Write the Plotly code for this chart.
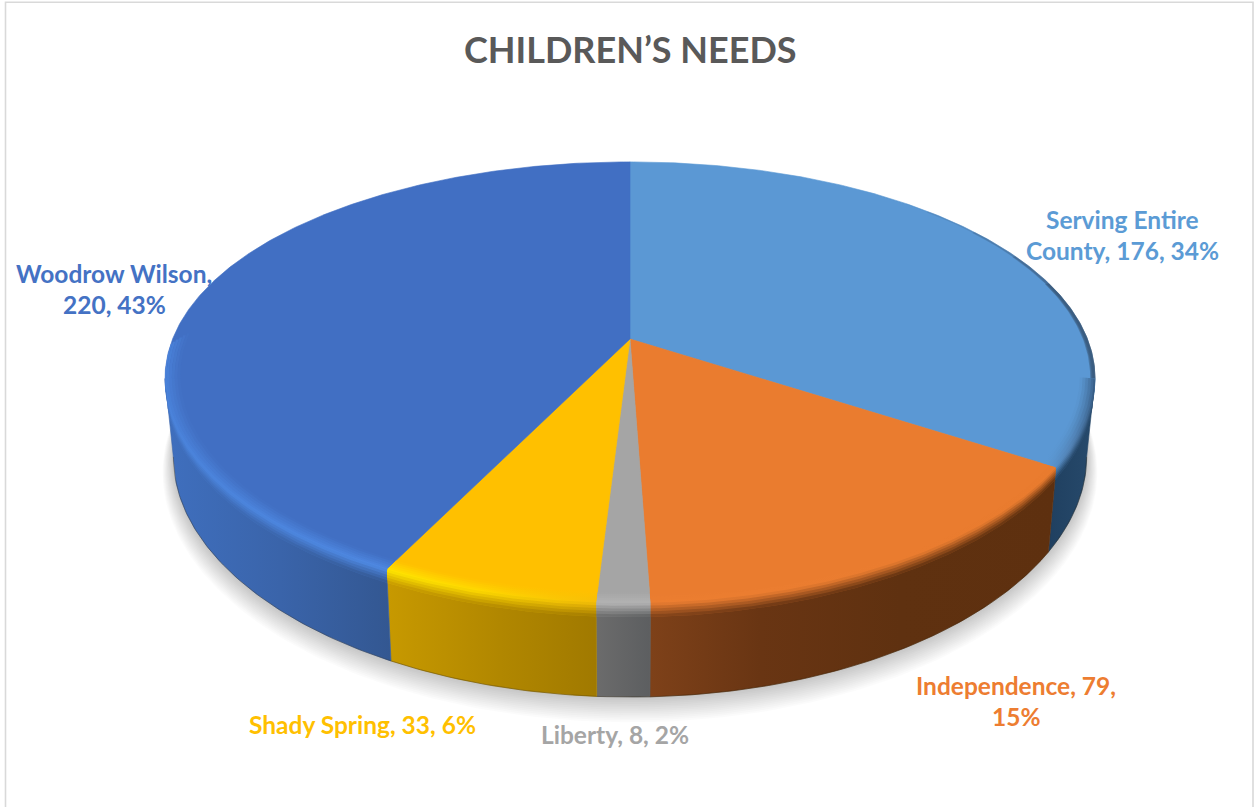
import numpy as np
import plotly.graph_objects as go

# Chart content
TITLE = "CHILDREN’S NEEDS"
CATEGORIES = ["Serving Entire County", "Independence", "Liberty", "Shady Spring", "Woodrow Wilson"]
VALUES = [176, 79, 8, 33, 220]
LABEL_BREAKS = ["Serving Entire", "Independence, 79,", None, None, "Woodrow Wilson,"]

# Slice colours
FACE_COLORS = ["#5B98D4", "#EA7C2F", "#A5A5A5", "#FFC000", "#416FC3"]
HIGHLIGHTS = [
    [(1045, "#5B98D4"), (1070, "#507FB0"), (1095, "#34587E")],
    [(650, "#EC7E31"), (1055, "#E97B2E")],
    [(595, "#B4B4B4"), (652, "#B4B4B4")],
    [(385, "#FFE600"), (480, "#FFDA00"), (600, "#F5BE08")],
    [(165, "#4B84DC"), (390, "#4F8AE4")],
]
WALL_SHADES = [
    [(1045, "#1F3F5F"), (1095, "#274A6C")],
    [(650, "#7E4119"), (760, "#693513"), (900, "#5F3110"), (1058, "#5E300F")],
    [(595, "#6C6C6C"), (652, "#5C5E60")],
    [(388, "#C79900"), (500, "#B18700"), (600, "#A07900")],
    [(165, "#3F6FBE"), (280, "#3A64AA"), (392, "#335791")],
]
LABEL_COLORS = ["#5B9BD5", "#ED7D31", "#A5A5A5", "#FFC000", "#4472C4"]
TITLE_COLOR = "#595959"
FRAME_COLOR = "#D9D9D9"

# Label anchors: centre of the first text line, in pixels
LABEL_ANCHORS = [(1122, 219), (1016, 685), (615, 734), (362, 724), (114, 273)]
LINE_STEP = 31

# Perspective model of the tilted disc
W, H = 1254, 807
CX, CY = 630, 339
AX, BY = 457.4, 212
TILT_X, TILT_Y = -0.18, -0.197
DEPTH = 75.5
BASE_SHRINK = 0.018
SILHOUETTE = np.degrees(np.arccos(TILT_X))


def project(theta_deg, r=1.0, z=0.0):
    """Map a point of the disc (clockwise angle from 12 o'clock) onto the canvas."""
    t = np.radians(theta_deg)
    px, py = r * np.sin(t), -r * np.cos(t)
    return (CX + AX * px * (1 - BASE_SHRINK * z) / (1 + TILT_X * py),
            CY + (BY * py + DEPTH * z) / (1 + TILT_Y * py))


def rgb(color):
    c = color.lstrip("#")
    return np.array([int(c[i:i + 2], 16) for i in (0, 2, 4)], dtype=float)


def mix(a, b, t):
    m = rgb(a) * (1 - t) + rgb(b) * t
    return "#%02X%02X%02X" % tuple(int(round(v)) for v in m)


def sample(stops, x):
    xs = [s[0] for s in stops]
    arr = np.array([rgb(s[1]) for s in stops])
    return "#%02X%02X%02X" % tuple(int(round(np.interp(x, xs, arr[:, i]))) for i in range(3))


def gradient(stops):
    lo, hi = stops[0][0], stops[-1][0]
    scale = [[(x - lo) / (hi - lo), c] for x, c in stops]
    return dict(type="horizontal", colorscale=scale, start=lo, stop=hi)


def ribbon(a, b, inner, outer, **style):
    """Closed strip along the rim between two (r, z) profiles."""
    th = np.linspace(a, b, max(int(abs(b - a) * 2), 8))
    x0, y0 = project(th, *inner)
    x1, y1 = project(th[::-1], *outer)
    return go.Scatter(
        x=np.r_[x0, x1, x0[0]], y=np.r_[y0, y1, y0[0]],
        mode="lines", fill="toself", hoverinfo="skip", showlegend=False, **style
    )


total = sum(VALUES)
edges = 360 * np.cumsum([0] + VALUES) / total
fig = go.Figure()

# Soft cast shadow under the base
for i in range(14, 0, -1):
    t = i / 14
    th = np.linspace(0, 360, 361)
    sx, sy = project(th, 1 + 0.026 * t, 1 + 0.17 * t)
    fig.add_trace(go.Scatter(
        x=sx, y=sy, mode="lines", fill="toself", line=dict(width=0),
        fillcolor="rgba(0,0,0,0.015)", hoverinfo="skip", showlegend=False
    ))

# Outer walls of the slices that face the viewer
for k in range(len(VALUES)):
    a, b = max(edges[k], SILHOUETTE if edges[k] < 180 else 0), edges[k + 1]
    b = min(b, 360 - SILHOUETTE)
    if b <= a:
        continue
    stops = WALL_SHADES[k]
    fig.add_trace(ribbon(a, b, (1, 0), (1, 1), line=dict(width=0.6, color=sample(stops, (stops[0][0] + stops[-1][0]) / 2)),
                         fillgradient=gradient(stops)))
    bx, by = project(np.linspace(a, b, 80), 1, 1)
    fig.add_trace(go.Scatter(x=bx, y=by, mode="lines", line=dict(width=1, color="rgba(40,25,0,0.3)"),
                             hoverinfo="skip", showlegend=False))

# Top faces of the slices
for k, (name, value) in enumerate(zip(CATEGORIES, VALUES)):
    th = np.linspace(edges[k], edges[k + 1], max(int(edges[k + 1] - edges[k]) * 2, 8))
    fx, fy = project(th)
    fig.add_trace(go.Scatter(
        x=np.r_[CX, fx, CX], y=np.r_[CY, fy, CY], mode="lines", fill="toself",
        fillcolor=FACE_COLORS[k], line=dict(width=0.6, color=FACE_COLORS[k]),
        name=name, text=f"{name}: {value}", hoverinfo="text", hoveron="fills", showlegend=False
    ))

# Thin dark edge where the far right rim meets the wall
for i in range(5):
    o = 0.05 + 0.09 * i
    fig.add_trace(ribbon(38 + i * 9, SILHOUETTE, (0.996 - 0.0015 * i, 0), (1.001, 0),
                         line=dict(width=0), fillcolor=f"rgba(40,55,75,{o * 0.7:.3f})"))

# Bevel along the front rim: face colour -> highlight -> wall colour
PROFILE = [(0.968, 0), (0.974, 0), (0.980, 0), (0.986, 0), (0.992, 0), (0.997, 0),
           (1, 0), (1, 0.03), (1, 0.06), (1, 0.09), (1, 0.12), (1, 0.15)]
N = len(PROFILE) - 1
PEAK = 6
for k in range(len(VALUES)):
    a, b = max(edges[k], SILHOUETTE if edges[k] < 180 else 0), edges[k + 1]
    b = min(b, 360 - SILHOUETTE)
    if b <= a:
        continue
    xs = sorted({s[0] for s in HIGHLIGHTS[k]} | {s[0] for s in WALL_SHADES[k]})
    for j in range(N):
        mid = j + 0.5
        stops = []
        for x in xs:
            hl, wall = sample(HIGHLIGHTS[k], x), sample(WALL_SHADES[k], x)
            if mid < PEAK:
                c = mix(FACE_COLORS[k], hl, mid / PEAK)
            else:
                c = mix(hl, wall, (mid - PEAK) / (N - PEAK))
            stops.append((x, c))
        # Each strip runs under the next one so no seams show between them
        end = PROFILE[min(j + 2, N)]
        fig.add_trace(ribbon(a, b, PROFILE[j], end, line=dict(width=0), fillgradient=gradient(stops)))

# The bevel on the large slice tapers away up the left side
for j in range(PEAK):
    c = mix(FACE_COLORS[4], HIGHLIGHTS[4][0][1], (j + 0.5) / PEAK)
    fig.add_trace(ribbon(360 - SILHOUETTE - 0.2, 360 - SILHOUETTE + 12 - j * 0.6, PROFILE[j], PROFILE[j + 1],
                         line=dict(width=0), fillcolor=c))

# Chart frame, open at the bottom
shapes = [dict(type="path", path=f"M 5.5 {H + 5} L 5.5 2.3 L 1253 2.3 L 1253 {H + 5}",
               line=dict(color=FRAME_COLOR, width=1.6), xref="x", yref="y", layer="below")]

# Title and data labels
annotations = [dict(x=630, y=49, xref="x", yref="y", text=f"<b>{TITLE}</b>", showarrow=False,
                    font=dict(family="Lato", size=36, color=TITLE_COLOR))]
for k, (name, value) in enumerate(zip(CATEGORIES, VALUES)):
    label = f"{name}, {value}, {round(100 * value / total)}%"
    if LABEL_BREAKS[k]:
        lines = [LABEL_BREAKS[k], label[len(LABEL_BREAKS[k]):].strip()]
    else:
        lines = [label]
    for n, line in enumerate(lines):
        annotations.append(dict(
            x=LABEL_ANCHORS[k][0], y=LABEL_ANCHORS[k][1] + n * LINE_STEP, xref="x", yref="y",
            text=f"<b>{line}</b>", showarrow=False,
            font=dict(family="Lato", size=24.5, color=LABEL_COLORS[k])
        ))

fig.update_layout(
    width=W, height=H, autosize=False,
    margin=dict(l=0, r=0, t=0, b=0),
    paper_bgcolor="white", plot_bgcolor="white",
    xaxis=dict(range=[0, W], visible=False, fixedrange=True),
    yaxis=dict(range=[H, 0], visible=False, fixedrange=True),
    shapes=shapes, annotations=annotations, showlegend=False,
)
fig.write_html("out.html")
